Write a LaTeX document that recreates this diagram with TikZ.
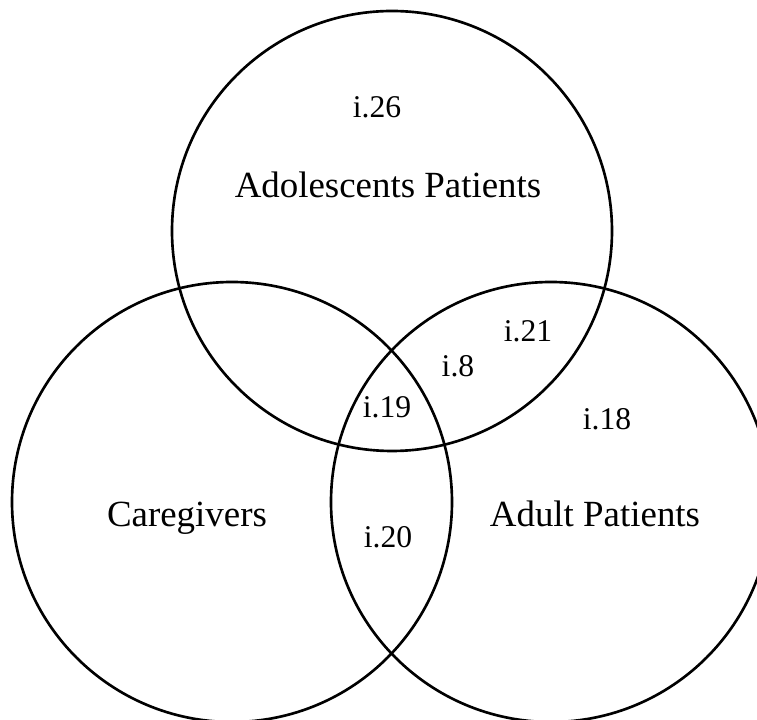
\documentclass[tikz,border=0pt]{standalone}
\usepackage{fontspec}
\setmainfont{Liberation Serif}
\usepackage{tikz}

\begin{document}
\begin{tikzpicture}[ring/.style={draw, line width=1.5pt},
  setname/.style={anchor=base, font=\fontsize{21}{25}\selectfont},
  region/.style={anchor=base, font=\fontsize{18}{22}\selectfont}]
	\useasboundingbox (0,0) rectangle (15.14,14.4);
	\draw[ring] (7.84,9.78) circle (4.4);
	\draw[ring] (4.64,4.36) circle (4.4);
	\draw[ring] (11.02,4.36) circle (4.4);
	\node[setname] (adol) at (7.76,10.44) {Adolescents Patients};
	\node[setname] (care) at (3.74,3.86) {Caregivers};
	\node[setname] (adult) at (11.9,3.86) {Adult Patients};
	\node[region] (r26) at (7.54,12.04) {i.26};
	\node[region] (r21) at (10.56,7.56) {i.21};
	\node[region] (r8) at (9.16,6.86) {i.8};
	\node[region] (r19) at (7.74,6.04) {i.19};
	\node[region] (r18) at (12.14,5.80) {i.18};
	\node[region] (r20) at (7.76,3.44) {i.20};
\end{tikzpicture}
\end{document}
